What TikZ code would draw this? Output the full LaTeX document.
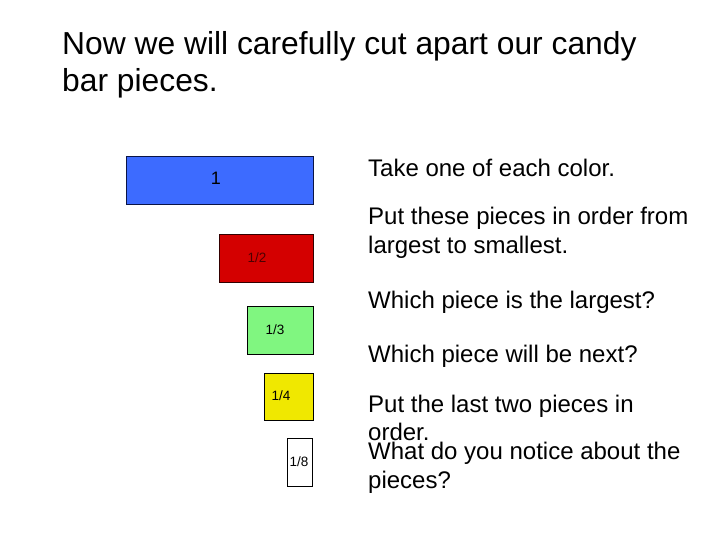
\documentclass[tikz,border=0pt]{standalone}
\usepackage{fontspec}
\setmainfont{Liberation Sans}
\definecolor{cblue}{RGB}{61,107,255}
\definecolor{cred}{RGB}{212,0,0}
\definecolor{cgreen}{RGB}{128,246,128}
\definecolor{cyellow}{RGB}{240,232,0}
\definecolor{cnavy}{RGB}{10,20,70}
\tikzset{
  piece/.style={draw=black, line width=0.9pt, anchor=north west, inner sep=0pt},
  lbl/.style={font=\fontsize{13.5}{16}\selectfont, inner sep=0pt},
  body/.style={font=\fontsize{24}{28}\selectfont, anchor=base west, inner sep=0pt},
  title/.style={font=\fontsize{31.8}{36}\selectfont, anchor=base west, inner sep=0pt}
}
\begin{document}
\begin{tikzpicture}[x=1pt,y=-1pt]
\useasboundingbox (0,0) rectangle (720,540);
\node[title] (t1) at (62,55) {Now we will carefully cut apart our candy};
\node[title] (t2) at (62,92) {bar pieces.};

\node[piece, fill=cblue, draw=cnavy, minimum width=187pt, minimum height=48pt] (p1) at (126,156) {};
\node[piece, fill=cred, draw=black!80!red, minimum width=94pt, minimum height=48pt] (p2) at (219,234) {};
\node[piece, fill=cgreen, minimum width=66pt, minimum height=48pt] (p3) at (247,306) {};
\node[piece, fill=cyellow, minimum width=49pt, minimum height=47pt] (p4) at (264,373) {};
\node[piece, fill=white, minimum width=25pt, minimum height=48pt] (p8) at (287,438) {};

\node[lbl, font=\fontsize{18}{20}\selectfont] (l1) at (216,178) {1};
\node[lbl, text=black!70!red] (l2) at (257,258) {1/2};
\node[lbl] (l3) at (275,330) {1/3};
\node[lbl] (l4) at (281,396) {1/4};
\node[lbl] (l8) at (299,462) {1/8};

\node[body] (a) at (368,177) {Take one of each color.};
\node[body] (b1) at (368,225) {Put these pieces in order from};
\node[body] (b2) at (368,254) {largest to smallest.};
\node[body] (c) at (368,308) {Which piece is the largest?};
\node[body] (d) at (368,362) {Which piece will be next?};
\node[body] (e1) at (368,412) {Put the last two pieces in};
\node[body] (e2) at (368,440) {order.};
\node[body] (f1) at (368,459) {What do you notice about the};
\node[body] (f2) at (368,488) {pieces?};
\end{tikzpicture}
\end{document}
